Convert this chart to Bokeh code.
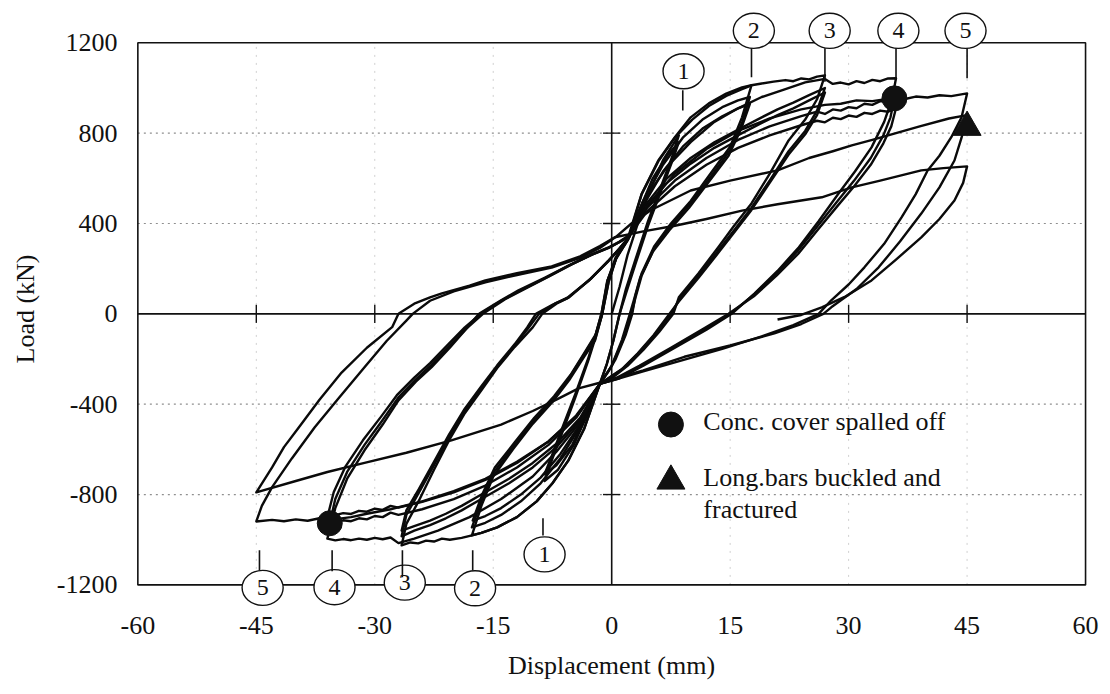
from bokeh.plotting import figure
from bokeh.models import Range1d, FixedTicker
from bokeh.embed import file_html
from bokeh.resources import INLINE
from bokeh.core.properties import value

# ---------------- data (displacement mm, load kN) ----------------
x_ticks = [-60, -45, -30, -15, 0, 15, 30, 45, 60]
y_ticks = [-1200, -800, -400, 0, 400, 800, 1200]

# cycle paths: (displacement, load)
c11 = [(0,0),(1,120),(2,260),(3.5,420),(5,560),(6.5,680),(8.5,790),(7.6,690),(6.2,560),(4.6,410),(3,240),(1.8,110),(1,0),(0.2,-120),(-0.6,-220),(-1.5,-310),(-3,-440),(-4.8,-580),(-6.8,-690),(-8.5,-740),(-7.6,-650),(-6.2,-520),(-4.6,-370),(-3,-210),(-2,-100),(-1.2,0)]
c12 = [(-1.2,0),(-0.4,140),(0.6,250),(2,330),(3.5,460),(5.2,600),(7,700),(8.5,760),(7.6,670),(6.2,540),(4.6,390),(3,220),(1.8,90),(1,0),(0.2,-120),(-0.6,-220),(-1.5,-310),(-3.2,-450),(-5,-580),(-7,-670),(-8.5,-710),(-7.6,-630),(-6.2,-500),(-4.6,-355),(-3,-200),(-2,-90),(-1.2,0)]
c21 = [(-1.2,0),(-0.4,140),(0.6,250),(2,330),(3.8,532),(5.9,679),(8,782),(10,870),(12.3,932),(14.5,975),(16.5,1003),(17.7,1012),(16.5,870),(15,740),(12.5,620),(10,500),(7.5,400),(5.4,300),(3.8,180),(3,80),(2.6,0),(1.8,-90),(0.5,-200),(-0.5,-260),(-1.5,-310),(-3.5,-510),(-5.5,-650),(-7.5,-750),(-9.5,-830),(-12,-900),(-14.5,-945),(-16.5,-970),(-17.7,-981),(-16.5,-850),(-15,-720),(-12.5,-600),(-10,-487),(-7.5,-390),(-5.4,-294),(-3.5,-190),(-2.1,-117),(-1.2,0)]
c22 = [(-1.2,0),(-0.5,150),(0.5,250),(2,330),(4,500),(6.5,660),(9,780),(11.5,860),(14,915),(16,945),(17.5,960),(16.5,845),(15,725),(12.5,605),(10,490),(7.5,390),(5.4,290),(3.8,170),(3,70),(2.5,0),(1.5,-110),(0,-230),(-1.5,-310),(-4,-500),(-6.5,-640),(-9,-750),(-11.5,-830),(-14,-890),(-16,-925),(-17.7,-945),(-16.5,-830),(-15,-705),(-12.5,-590),(-10,-480),(-7.5,-380),(-5.4,-285),(-3.5,-180),(-2.1,-100),(-1.3,0)]
c23 = [(-1.3,0),(-0.6,140),(0.5,240),(2,325),(4,480),(6.5,630),(9,740),(11.5,820),(14,875),(16,910),(17.5,930),(16.4,820),(14.8,700),(12.3,585),(9.8,470),(7.3,370),(5.2,275),(3.6,160),(2.8,60),(2.3,0),(1.3,-115),(0,-230),(-1.5,-310),(-4,-490),(-6.5,-620),(-9,-725),(-11.5,-800),(-14,-860),(-16,-895),(-17.6,-915),(-16.4,-800),(-14.8,-680),(-12.3,-570),(-9.8,-460),(-7.3,-365),(-5.2,-270),(-3.4,-170),(-2,-90),(-1.3,0)]
c31 = [(-1.3,0),(-0.5,150),(0.6,250),(2.1,330),(3.8,530),(5.9,675),(8,780),(10.2,860),(12.3,920),(14.5,965),(16.5,995),(17.7,1012),(19,1020),(20.5,1028),(22,1035),(23,1030),(24,1042),(25,1038),(26,1050),(27,1056),(26,950),(24.5,860),(22.4,768),(20,620),(17.7,489),(15.5,390),(13.5,295),(11,180),(8.5,73),(7.8,0),(6,-80),(4,-160),(2,-230),(0,-285),(-1.5,-310),(-3.5,-510),(-5.5,-650),(-7.5,-750),(-9.5,-830),(-12,-900),(-14.5,-945),(-16.5,-970),(-17.7,-981),(-19,-992),(-20.5,-1000),(-21.5,-995),(-22.5,-1008),(-23.5,-1004),(-24.5,-1016),(-25.5,-1012),(-26.6,-1025),(-26,-930),(-24.4,-826),(-22.5,-690),(-20.6,-560),(-18.6,-440),(-16.5,-338),(-14.5,-240),(-12.3,-147),(-10,-60),(-8.8,0)]
c32 = [(-8.8,0),(-7,45),(-5.4,73),(-2.5,160),(-0.4,236),(1,290),(2.2,340),(4,470),(7,600),(10,690),(13,760),(16.5,825),(19,870),(21,905),(23,935),(25,968),(27,1000),(26,900),(24.5,810),(22.4,720),(20,590),(17.7,470),(15.5,370),(13.5,280),(11,170),(8.5,60),(7.5,0),(5.5,-90),(3.5,-170),(1.5,-240),(-1.5,-310),(-4,-470),(-7,-590),(-10,-680),(-13,-750),(-16.5,-820),(-19,-870),(-21,-905),(-23,-935),(-25,-960),(-26.6,-985),(-26,-890),(-24.4,-790),(-22.5,-670),(-20.6,-545),(-18.6,-430),(-16.5,-330),(-14.5,-235),(-12.3,-140),(-10.5,-60),(-9.2,0)]
c33 = [(-9.2,0),(-7.2,45),(-5.6,70),(-2.7,155),(-0.5,232),(1,288),(2.2,338),(4,455),(7,580),(10,665),(13,735),(16.5,800),(19,845),(21,880),(23,910),(25,945),(27,980),(26,880),(24.5,795),(22.4,705),(20,580),(17.7,460),(15.5,360),(13.5,270),(11,160),(8.5,55),(7.3,0),(5.3,-95),(3.3,-175),(1.3,-245),(-1.5,-310),(-4,-460),(-7,-575),(-10,-660),(-13,-730),(-16.5,-800),(-19,-850),(-21,-885),(-23,-915),(-25,-940),(-26.6,-960),(-26,-870),(-24.4,-775),(-22.5,-655),(-20.6,-535),(-18.6,-420),(-16.5,-320),(-14.5,-228),(-12.3,-135),(-10.7,-60),(-9.6,0)]
c41 = [(-9.6,0),(-7.5,40),(-5.6,72),(-2.8,150),(-0.5,230),(1,290),(2.2,340),(4,500),(7,650),(10,760),(13,850),(16,910),(19,960),(22,995),(24.5,1025),(27,1040),(28,1018),(29,1024),(30,1016),(31,1030),(32,1022),(33,1036),(34,1030),(35,1042),(36,1043),(35.5,950),(34.5,850),(32.9,737),(30.8,630),(28.7,532),(26.2,410),(23.7,295),(21,190),(18.1,91),(15.2,0),(12,-70),(8,-150),(4,-230),(1,-285),(-1.5,-310),(-4,-480),(-7,-610),(-10,-720),(-14,-820),(-18,-900),(-22,-960),(-25,-995),(-27,-1015),(-28,-990),(-29,-998),(-30,-992),(-31,-1000),(-32,-995),(-33,-1002),(-34,-997),(-35,-1003),(-36,-995),(-35,-860),(-33.5,-730),(-31.3,-604),(-29,-490),(-27,-383),(-24.8,-300),(-22.8,-236),(-20.5,-150),(-18.6,-73),(-16.8,0)]
c42 = [(-16.8,0),(-14,60),(-11.8,104),(-8.5,160),(-5.4,215),(-2.5,262),(-0.4,292),(1,318),(2.2,345),(4.5,470),(8,590),(12,690),(16,770),(20,830),(24,875),(26,895),(27,885),(28,905),(29,900),(30,915),(31,910),(32,930),(33,925),(34,942),(35,938),(35.8,954),(35.3,870),(34.4,790),(32.8,690),(30.7,590),(28.6,500),(26.1,390),(23.6,280),(20.9,180),(18,85),(15,0),(12,-65),(8,-145),(4,-225),(1,-282),(-1.5,-310),(-4.5,-460),(-8,-580),(-12,-680),(-16,-760),(-20,-820),(-24,-865),(-27,-890),(-28,-880),(-29,-900),(-30,-895),(-31,-910),(-32,-905),(-33,-918),(-34,-914),(-35.7,-927),(-35,-820),(-33.5,-700),(-31.3,-580),(-29,-470),(-27,-370),(-24.8,-290),(-22.8,-225),(-20.5,-140),(-18.4,-65),(-16.3,0)]
c43 = [(-16.3,0),(-13.5,65),(-11,110),(-8,165),(-5,220),(-2.5,262),(-0.4,292),(1,318),(2.2,345),(4.5,455),(8,565),(12,660),(16,735),(20,790),(24,835),(26,855),(27,848),(28,868),(29,862),(30,878),(31,872),(32,890),(33,885),(34,900),(35,895),(36,910),(35.4,830),(34.4,755),(32.8,660),(30.7,565),(28.6,478),(26.1,372),(23.6,265),(20.9,170),(18,78),(14.8,0),(11.5,-68),(7.5,-150),(3.5,-230),(0.5,-285),(-1.5,-310),(-4.5,-450),(-8,-565),(-12,-660),(-16,-735),(-20,-790),(-24,-832),(-27,-858),(-28,-850),(-29,-868),(-30,-862),(-31,-876),(-32,-872),(-33,-886),(-34,-882),(-36,-900),(-35.2,-790),(-33.7,-675),(-31.5,-560),(-29.2,-455),(-27.2,-360),(-25,-282),(-23,-218),(-20.7,-135),(-18.6,-60),(-16.6,0)]
c51 = [(-16.6,0),(-13.8,62),(-11.4,106),(-8.2,162),(-5.2,218),(-2.6,262),(-0.4,294),(1,320),(2.2,348),(4.5,480),(8,620),(12,730),(16,810),(20,865),(24,905),(27,925),(29,930),(31,945),(33,942),(35.8,956),(37,950),(38.5,962),(40,958),(41.5,968),(43,964),(45,976),(44.3,870),(43,782),(41.5,700),(40,635),(38.5,530),(36.7,427),(34.5,310),(32,206),(30,130),(27.8,60),(26.2,0),(23,-50),(19,-100),(14,-155),(9,-205),(4,-255),(0,-295),(-1.5,-310),(-4.5,-455),(-8,-565),(-12,-655),(-16,-730),(-20,-785),(-24,-830),(-28,-865),(-31,-885),(-33,-900),(-35.7,-912),(-37,-905),(-38.5,-916),(-40,-910),(-41.5,-918),(-43,-912),(-45,-919),(-44.3,-850),(-43,-767),(-40.5,-640),(-37.6,-502),(-34.5,-370),(-31.3,-236),(-28.5,-120),(-26,-30),(-25.2,0)]
c52 = [(-25.2,0),(-23,58),(-20,100),(-16,140),(-12,172),(-7.6,205),(-4,248),(-1.5,292),(0.5,340),(2.5,400),(5,460),(10,546),(15,590),(21,635),(25,690),(28,720),(30.4,746),(33,770),(36,800),(39,830),(42.7,865),(45,880),(44.3,780),(43.4,679),(41.5,560),(39.2,444),(36.5,320),(33.8,206),(31,110),(27.8,29),(26.8,0),(24,-45),(20.6,-86),(15,-140),(9.2,-190),(4,-250),(0,-290),(-1.5,-305),(-4.2,-330),(-7,-380),(-10,-430),(-14,-490),(-20.3,-560),(-26,-615),(-31.3,-660),(-36,-700),(-40,-740),(-45,-790),(-43,-680),(-41.5,-590),(-39.6,-502),(-37,-380),(-34.2,-260),(-31,-150),(-27.8,-59),(-27,0)]
c53 = [(-27,0),(-25,45),(-23,73),(-21.5,91),(-18,125),(-16,148),(-12,180),(-7.6,210),(-4,255),(-1.5,300),(0.4,339),(4,365),(8,390),(12,420),(16.5,457),(21,485),(26.6,516),(30.4,560),(34,590),(39.2,635),(42,645),(45,653),(44.5,580),(43.4,502),(41.5,420),(39.2,339),(36,240),(32.9,148),(29.5,75),(26.6,29),(24,-5),(21,-25)]
cycles = [c11, c12, c21, c22, c23, c31, c32, c33, c41, c42, c43, c51, c52, c53]

# damage events
spall_disp = [35.8, -35.7]
spall_load = [954, -927]
buckle_disp = [45.0]
buckle_load = [826]

# circled cycle numbers
cycle_labels = ["1", "2", "3", "4", "5"]
top_label_x = [9.1, 18.0, 27.6, 36.3, 44.8]
top_label_y = [1074, 1253, 1253, 1253, 1253]
top_tick_x = [9.0, 17.7, 27.0, 36.0, 45.0]
top_tick_y0 = [990, 1176, 1176, 1176, 1176]
top_tick_y1 = [900, 1047, 1028, 1036, 1043]
bot_label_x = [-8.5, -17.3, -26.2, -35.1, -44.2]
bot_label_y = [-1065, -1215, -1190, -1210, -1213]
bot_tick_x = [-8.7, -17.6, -26.5, -35.4, -44.6]
bot_tick_y0 = [-905, -1047, -1047, -1047, -1047]
bot_tick_y1 = [-981, -1136, -1166, -1140, -1136]

legend_x = [7.5, 7.5]
legend_y = [-490, -740]
legend_text_x = [11.6, 11.6, 11.6]
legend_text_y = [-476, -726, -866]
legend_texts = ["Conc. cover spalled off", "Long.bars buckled and", "fractured"]

# ---------------- figure ----------------
FONT = "Liberation Serif"
p = figure(width=1110, height=694, x_range=Range1d(-60.55, 60.5), y_range=Range1d(-1300, 1343),
           output_backend="svg", toolbar_location=None, tools="",
           min_border_left=133, min_border_right=21, min_border_top=10, min_border_bottom=87)
p.outline_line_color = None
p.grid.visible = False
p.background_fill_color = "white"
p.border_fill_color = "white"

for ax in (p.xaxis[0], p.yaxis[0]):
    ax.axis_line_color = None
    ax.major_tick_line_color = None
    ax.minor_tick_line_color = None
    ax.major_tick_out = 0
    ax.major_tick_in = 0
    ax.minor_tick_out = 0
    ax.minor_tick_in = 0
    ax.major_label_text_font = FONT
    ax.major_label_text_font_size = "26px"
    ax.major_label_text_color = "#111111"
    ax.axis_label_text_font = FONT
    ax.axis_label_text_font_size = "26px"
    ax.axis_label_text_font_style = "normal"
    ax.axis_label_text_color = "#111111"

p.xaxis.ticker = FixedTicker(ticks=x_ticks)
p.yaxis.ticker = FixedTicker(ticks=y_ticks)
p.xaxis.major_label_overrides = {t: str(t) for t in x_ticks}
p.yaxis.major_label_overrides = {t: str(t) for t in y_ticks}
p.xaxis.axis_label = "Displacement (mm)"
p.yaxis.axis_label = "Load (kN)"
p.xaxis.major_label_standoff = 9
p.yaxis.major_label_standoff = 16
p.xaxis.axis_label_standoff = 14
p.yaxis.axis_label_standoff = 14

x_lo, x_hi = x_ticks[0], x_ticks[-1]
y_lo, y_hi = y_ticks[0], y_ticks[-1]

# dotted grid inside the box
gy = [t for t in y_ticks if t not in (0, y_lo, y_hi)]
gx = [t for t in x_ticks if t not in (0, x_lo, x_hi)]
p.segment(x0=[x_lo] * len(gy), x1=[x_hi] * len(gy), y0=gy, y1=gy,
          line_color="#8f8f8f", line_dash="2 4", line_width=1.2)
p.segment(x0=gx, x1=gx, y0=[y_lo] * len(gx), y1=[y_hi] * len(gx),
          line_color="#d0d0d0", line_dash="2 6", line_width=1)

# frame box
p.quad(left=[x_lo], right=[x_hi], bottom=[y_lo], top=[y_hi], fill_color=None,
       line_color="#111111", line_width=1.6)

# zero axes with crossing ticks
p.segment(x0=[x_lo, 0], x1=[x_hi, 0], y0=[0, y_lo], y1=[0, y_hi], line_color="#111111", line_width=1.6)
p.segment(x0=gx, x1=gx, y0=[-40] * len(gx), y1=[40] * len(gx), line_color="#111111", line_width=1.4)
p.segment(x0=[-1.1] * len(gy), x1=[1.1] * len(gy), y0=gy, y1=gy, line_color="#111111", line_width=1.4)

# hysteresis curves
for cyc in cycles:
    xs = [pt[0] for pt in cyc]
    ys = [pt[1] for pt in cyc]
    p.line(xs, ys, line_color="#0a0a0a", line_width=2.4, line_join="round")

# circled cycle numbers
all_lx = top_label_x + bot_label_x
all_ly = top_label_y + bot_label_y
p.ellipse(x=all_lx, y=all_ly, width=5.2, height=155, fill_color="white",
          line_color="#111111", line_width=1.4)
p.segment(x0=top_tick_x + bot_tick_x, x1=top_tick_x + bot_tick_x,
          y0=top_tick_y0 + bot_tick_y0, y1=top_tick_y1 + bot_tick_y1,
          line_color="#111111", line_width=1.6)
p.text(x=all_lx, y=all_ly, text=cycle_labels + cycle_labels, text_align="center",
       text_baseline="middle", text_font=value(FONT), text_font_size=value("24px"),
       text_color="#111111")

# damage markers
p.scatter(spall_disp, spall_load, marker="circle", size=25, fill_color="#111111", line_color="#111111")
p.scatter(buckle_disp, buckle_load, marker="triangle", size=28, fill_color="#111111", line_color="#111111")

# legend
p.scatter(legend_x[:1], legend_y[:1], marker="circle", size=25, fill_color="#111111", line_color="#111111")
p.scatter(legend_x[1:], legend_y[1:], marker="triangle", size=28, fill_color="#111111", line_color="#111111")
p.text(x=legend_text_x, y=legend_text_y, text=legend_texts, text_align="left", text_baseline="middle",
       text_font=value(FONT), text_font_size=value("26px"), text_color="#111111")

open("out.html", "w").write(file_html(p, INLINE))
